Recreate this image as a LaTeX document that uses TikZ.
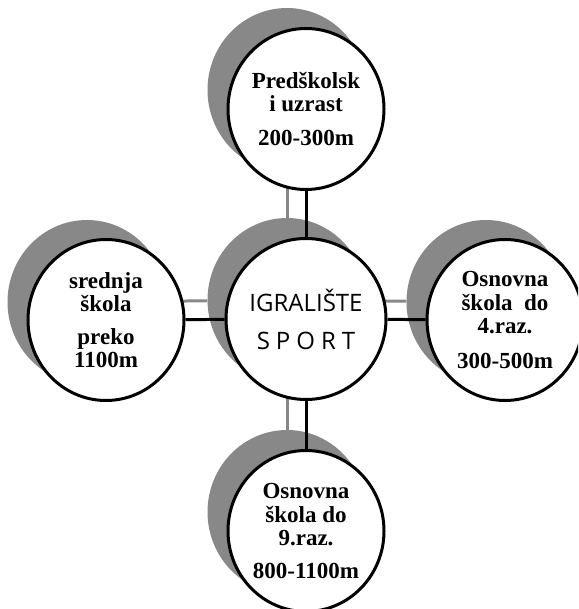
\documentclass[tikz,border=0pt]{standalone}
\usepackage{fontspec}
\setmainfont{Liberation Serif}
\newfontfamily\csans{Open Sans}
\newfontfamily\csanswide{Open Sans}[LetterSpace=25]
\usetikzlibrary{shapes.geometric}
\definecolor{shadowgray}{RGB}{136,136,136}
\tikzset{
  bubble/.style={ellipse, draw=black, line width=3pt, fill=white,
    minimum width=156pt, minimum height=161pt, inner sep=0pt, align=center,
    font=\bfseries\fontsize{23}{23.5}\selectfont},
  shadebubble/.style={ellipse, fill=shadowgray, minimum width=159pt,
    minimum height=164pt, inner sep=0pt},
  link/.style={line width=3pt, black},
  shadowlink/.style={line width=3pt, shadowgray},
}
\begin{document}
\begin{tikzpicture}[x=1pt,y=-1pt]
\useasboundingbox (0,0) rectangle (578,609);
\fill[white] (0,0) rectangle (578,609);
\clip (0,0) rectangle (578,609);
% shadows
\node[shadebubble] (sT) at (287,90) {};
\node[shadebubble] (sC) at (287,300) {};
\node[shadebubble] (sL) at (87,302) {};
\node[shadebubble] (sR) at (486,302) {};
\node[shadebubble] (sB) at (287,512) {};
\draw[shadowlink] (sT) -- (sC);
\draw[shadowlink] (sC) -- (sB);
\draw[shadowlink] (sL) -- (sC);
\draw[shadowlink] (sC) -- (sR);
% circles
\node[bubble] (T) at (306,109) {Predškolsk\\i uzrast\\[10pt]200-300m};
\node[bubble, font=\csans\fontsize{24}{27}\selectfont] (C) at (306,319)
  {IGRALIŠTE\\[11pt]{\csanswide SPORT}};
\node[bubble] (L) at (106,320) {srednja\\škola\\[9pt]preko\\1100m};
\node[bubble] (R) at (505,320) {Osnovna\\škola~ do\\4.raz.\\[11pt]300-500m};
\node[bubble] (B) at (306,531) {Osnovna\\škola do\\9.raz.\\[9pt]800-1100m};
% connectors
\draw[link] (T) -- (C);
\draw[link] (C) -- (B);
\draw[link] (L) -- (C);
\draw[link] (C) -- (R);
\end{tikzpicture}
\end{document}
